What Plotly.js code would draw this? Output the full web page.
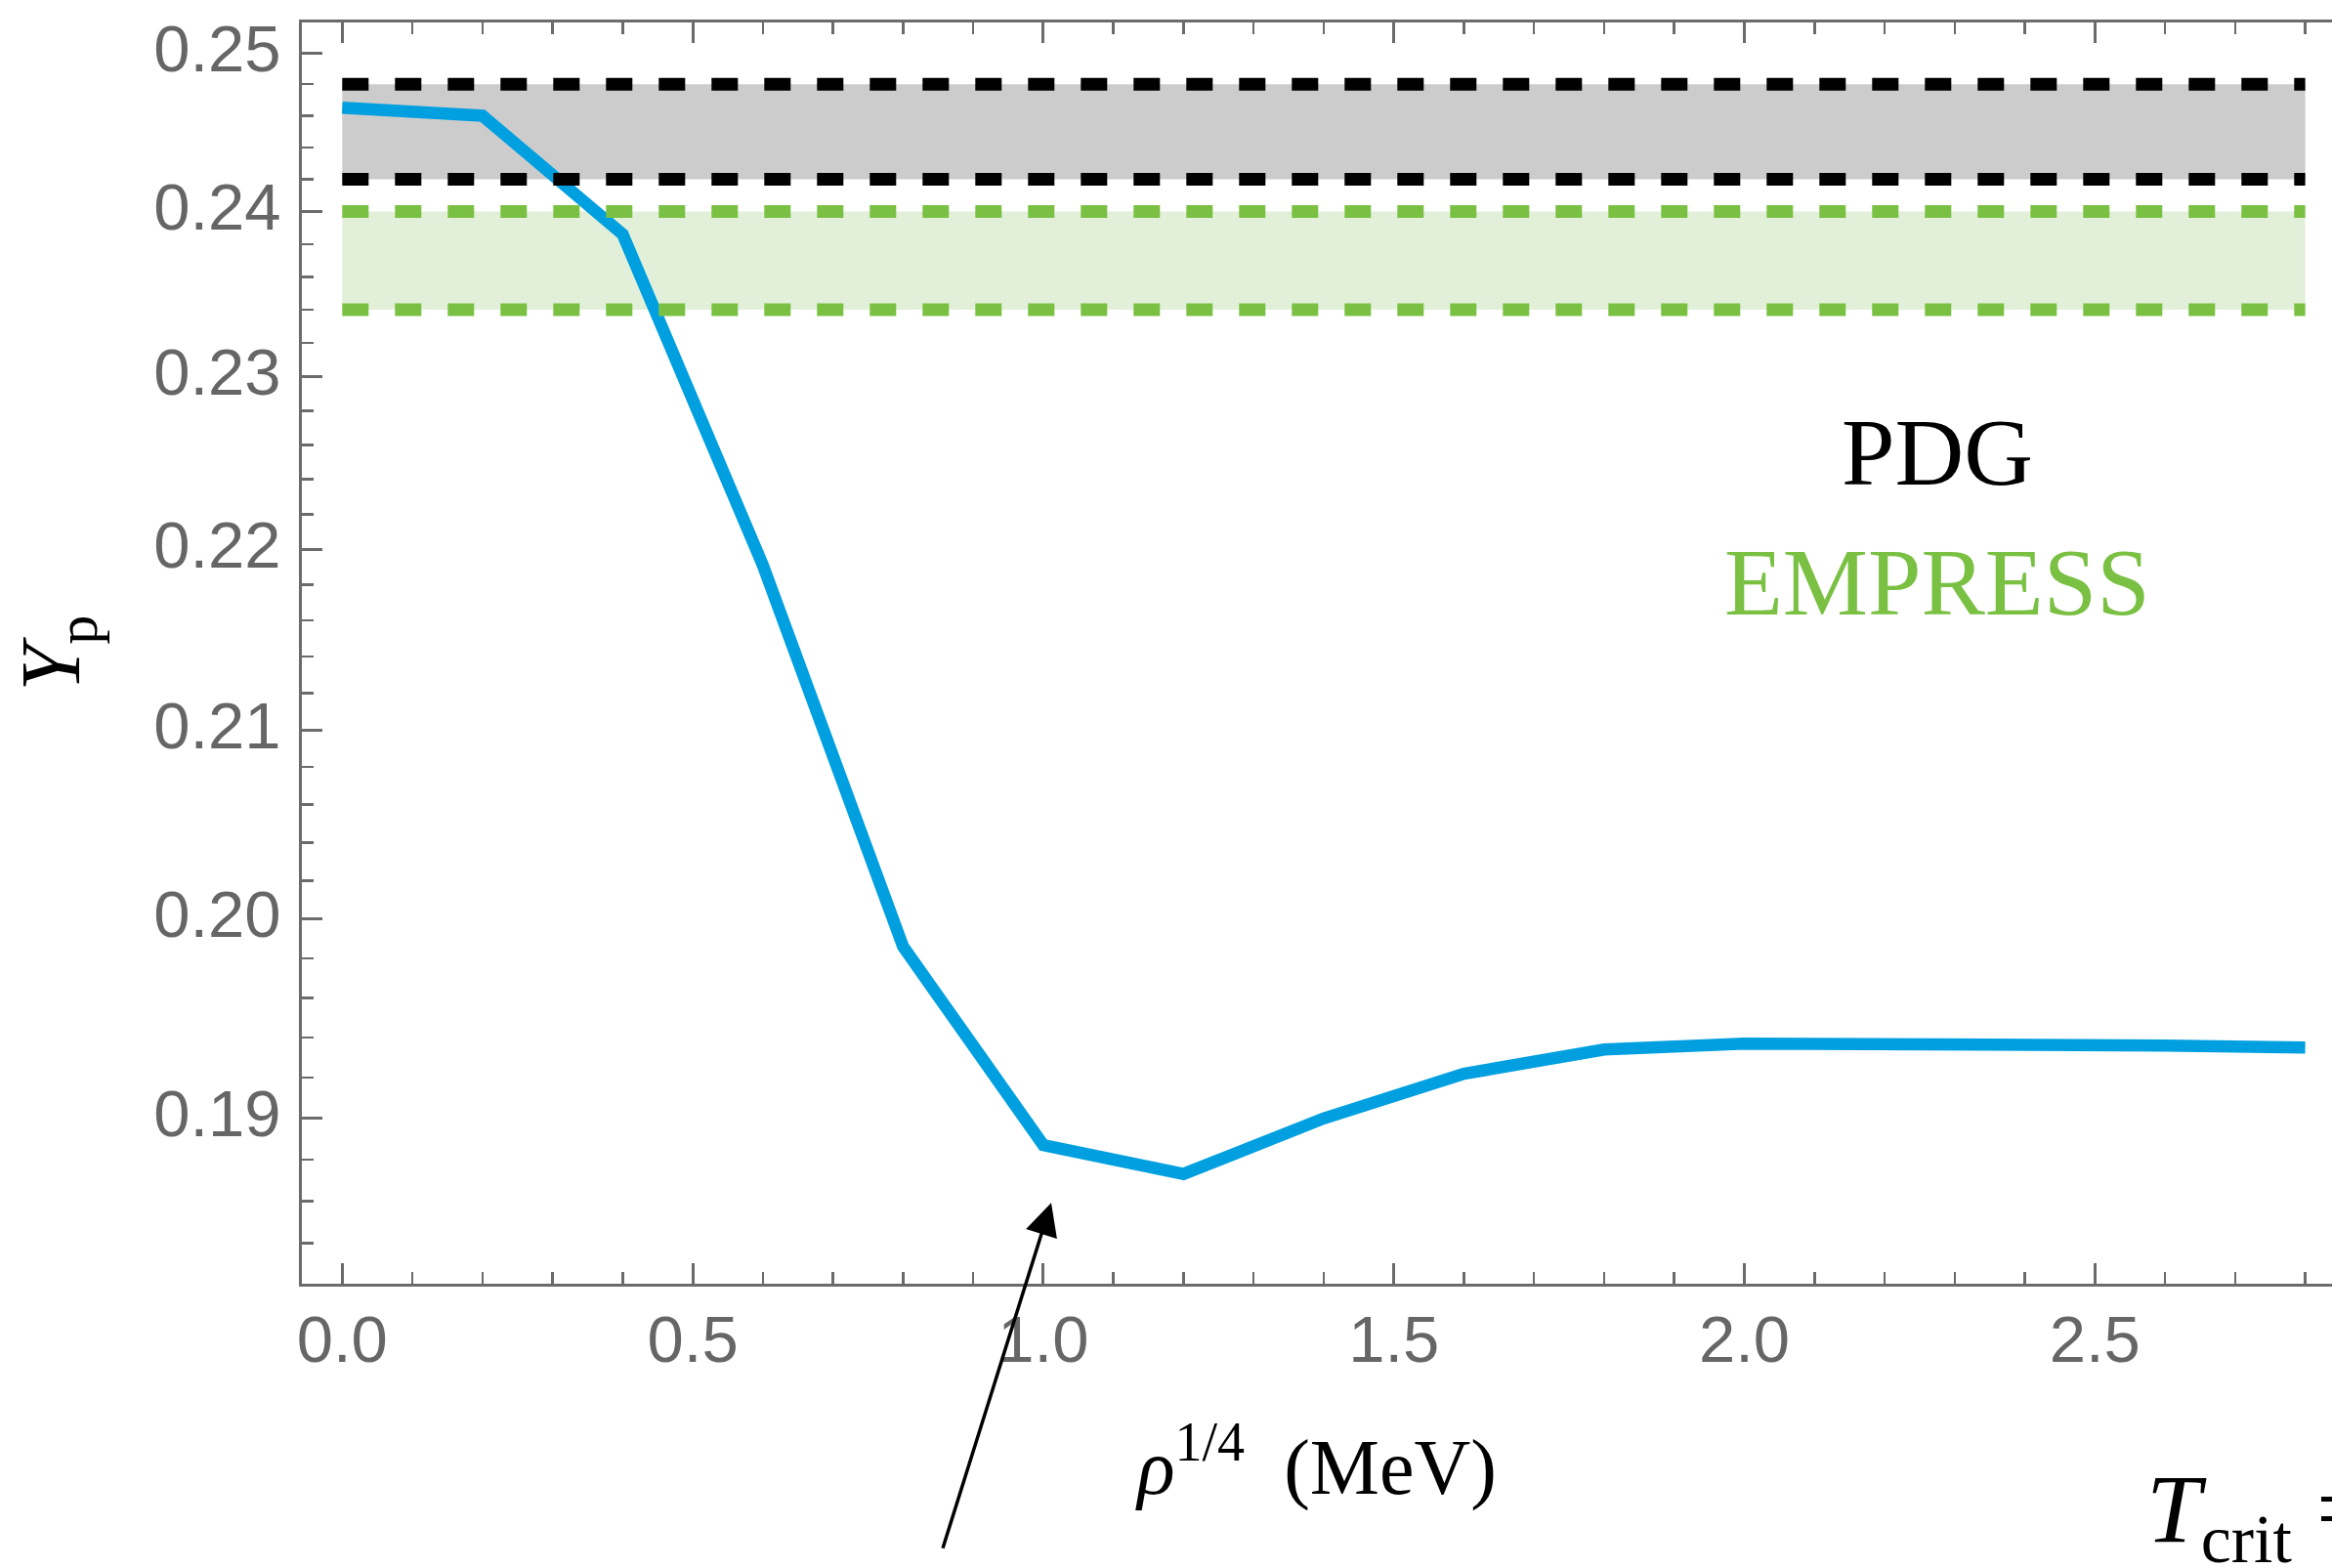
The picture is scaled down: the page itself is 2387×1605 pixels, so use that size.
<!DOCTYPE html>
<html>
<head>
<meta charset="utf-8">
<script src="https://cdn.plot.ly/plotly-3.0.1.min.js"></script>
<style>
html,body{margin:0;padding:0;background:#ffffff;}
#chart{width:2387px;height:1605px;}
</style>
</head>
<body>
<div id="chart"></div>
<script>
// ---- data ----
const rho = [0.0, 0.2, 0.4, 0.6, 0.8, 1.0, 1.2, 1.4, 1.6, 1.8, 2.0, 2.2, 2.4, 2.6, 2.8];
const Yp  = [0.2465, 0.2460, 0.2386, 0.2191, 0.1986, 0.1887, 0.1873, 0.1900, 0.1922, 0.1934, 0.1937, 0.1937, 0.1937, 0.1936, 0.1935];

const bandX   = [0.0, 2.8];
const pdgLow  = [0.242, 0.242];
const pdgHigh = [0.248, 0.248];
const empLow  = [0.234, 0.234];
const empHigh = [0.240, 0.240];

const xTickVals = [0.0, 0.5, 1.0, 1.5, 2.0, 2.5];
const xTickText = ["0.0", "0.5", "1.0", "1.5", "2.0", "2.5"];
const yTickVals = [0.19, 0.20, 0.21, 0.22, 0.23, 0.24, 0.25];
const yTickText = ["0.19", "0.20", "0.21", "0.22", "0.23", "0.24", "0.25"];

// arrow tip (data units) pointing at the rho^{1/4} = 1 point
const arrowTip = {x: 1.0113, y: 0.18591};

// minor tick positions
const xMinor = [];
for (let i = 1; i <= 29; i++) { if (i % 5 !== 0) xMinor.push(i / 10); }
const yMinor = [];
for (let i = 184; i <= 250; i += 2) { if (i % 10 !== 0) yMinor.push(i / 1000); }

// ---- colours ----
const BLUE = '#00A0E0';
const GREEN = '#7AC143';
const GREEN_FILL = '#E2F0D9';
const GREY_FILL = '#CCCCCC';
const AXIS = '#6b6b6b';

const dash = '27px,27px';

const traces = [
  {x: bandX, y: pdgLow, mode: 'lines', line: {width: 0}, hoverinfo: 'skip', showlegend: false},
  {x: bandX, y: pdgHigh, mode: 'lines', line: {width: 0}, fill: 'tonexty', fillcolor: GREY_FILL, hoverinfo: 'skip', showlegend: false},
  {x: bandX, y: empLow, mode: 'lines', line: {width: 0}, hoverinfo: 'skip', showlegend: false},
  {x: bandX, y: empHigh, mode: 'lines', line: {width: 0}, fill: 'tonexty', fillcolor: GREEN_FILL, hoverinfo: 'skip', showlegend: false},
  {x: rho, y: Yp, mode: 'lines', line: {color: BLUE, width: 12.5}, showlegend: false},
  {x: bandX, y: pdgLow, mode: 'lines', line: {color: '#000000', width: 13, dash: dash}, showlegend: false},
  {x: bandX, y: pdgHigh, mode: 'lines', line: {color: '#000000', width: 13, dash: dash}, showlegend: false},
  {x: bandX, y: empLow, mode: 'lines', line: {color: GREEN, width: 13, dash: dash}, showlegend: false},
  {x: bandX, y: empHigh, mode: 'lines', line: {color: GREEN, width: 13, dash: dash}, showlegend: false}
];

const tickFont = {family: '"Liberation Sans", Arial, sans-serif', size: 67, color: '#666666'};
const serif = '"Liberation Serif", "Times New Roman", serif';

const layout = {
  width: 2387,
  height: 1605,
  margin: {l: 309, r: 0, t: 23, b: 291, pad: 0},
  paper_bgcolor: '#ffffff',
  plot_bgcolor: '#ffffff',
  showlegend: false,
  xaxis: {
    range: [-0.05755, 2.8382],
    showgrid: false, zeroline: false,
    showline: true, linecolor: AXIS, linewidth: 3,
    mirror: 'ticks',
    ticks: 'inside', ticklen: 21, tickwidth: 3, tickcolor: AXIS,
    tickmode: 'array', tickvals: xTickVals, ticktext: xTickText,
    tickfont: tickFont,
    ticklabelstandoff: -3,
    minor: {tickmode: 'array', tickvals: xMinor, ticks: 'inside', ticklen: 12, tickwidth: 2.5, tickcolor: AXIS, showgrid: false},
    title: {text: '<i>ρ</i><sup>1/4</sup>&nbsp;&nbsp;(MeV)', font: {family: serif, size: 80, color: '#000000'}, standoff: 66},
    automargin: false
  },
  yaxis: {
    type: 'log',
    range: [-0.739739, -0.598639],
    showgrid: false, zeroline: false,
    showline: true, linecolor: AXIS, linewidth: 3,
    ticks: 'inside', ticklen: 21, tickwidth: 3, tickcolor: AXIS,
    tickmode: 'array', tickvals: yTickVals, ticktext: yTickText,
    tickfont: tickFont,
    ticklabelstandoff: 5,
    ticklabelshift: -5,
    minor: {tickmode: 'array', tickvals: yMinor, ticks: 'inside', ticklen: 12, tickwidth: 2.5, tickcolor: AXIS, showgrid: false},
    title: {text: '<i>Y</i><sub>p</sub>', font: {family: serif, size: 86, color: '#000000'}, standoff: 48},
    automargin: false
  },
  annotations: [
    {xref: 'paper', yref: 'paper', x: 0.8055, y: 0.659, xanchor: 'center', yanchor: 'middle',
     text: 'PDG', showarrow: false, font: {family: serif, size: 98, color: '#000000'}},
    {xref: 'paper', yref: 'paper', x: 0.8055, y: 0.5565, xanchor: 'center', yanchor: 'middle',
     text: 'EMPRESS', showarrow: false, font: {family: serif, size: 98, color: GREEN}},
    {xref: 'paper', yref: 'paper', x: 0.9078, y: -0.184, xanchor: 'left', yanchor: 'middle',
     text: '<i>T</i><sub>crit</sub> =', showarrow: false, font: {family: serif, size: 100, color: '#000000'}},
    {xref: 'x', yref: 'y', x: arrowTip.x, y: Math.log10(arrowTip.y), text: ' ', showarrow: true,
     axref: 'pixel', ayref: 'pixel', ax: -114, ay: 363,
     arrowhead: 2, arrowsize: 1.9, arrowwidth: 3.5, arrowcolor: '#000000', standoff: 0, startstandoff: 0}
  ]
};

Plotly.newPlot('chart', traces, layout, {staticPlot: true, displayModeBar: false});
</script>
</body>
</html>
